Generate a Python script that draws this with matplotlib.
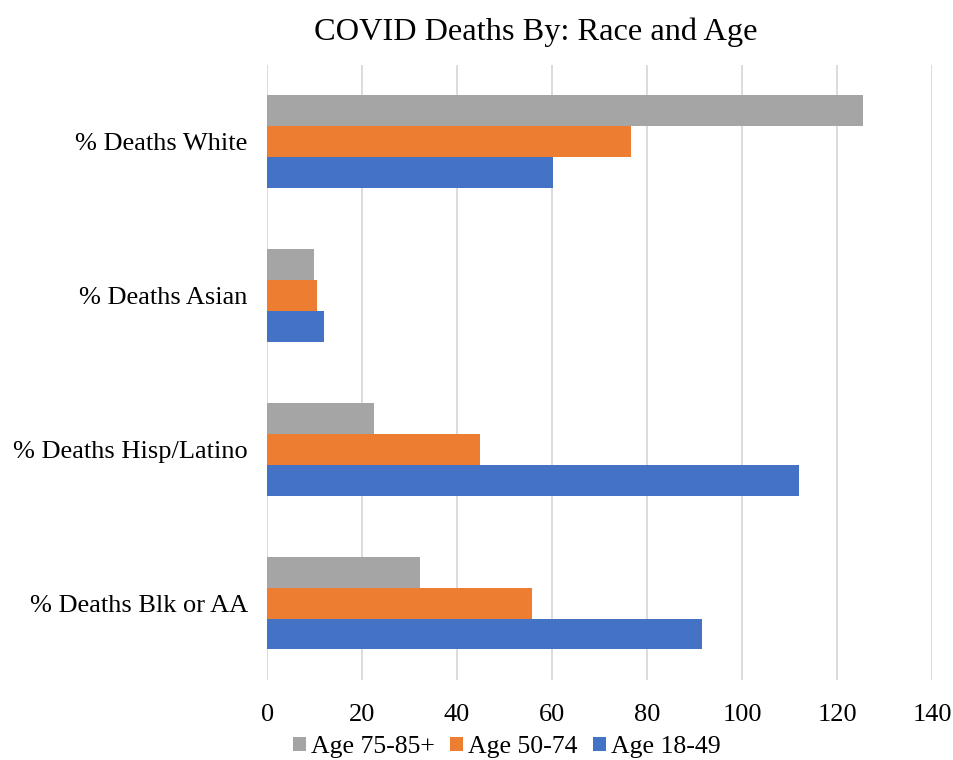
import matplotlib.pyplot as plt
import numpy as np

categories = ["% Deaths Blk or AA", "% Deaths Hisp/Latino", "% Deaths Asian", "% Deaths White"]
age_18_49 = [91.6, 112.0, 12.0, 60.2]
age_50_74 = [55.8, 44.9, 10.4, 76.7]
age_75_85 = [32.2, 22.4, 9.9, 125.5]
series_names = ["Age 18-49", "Age 50-74", "Age 75-85+"]
colors = ["#4472c4", "#ed7d31", "#a5a5a5"]

plt.rcParams["font.family"] = ["Liberation Serif", "DejaVu Serif"]

fig = plt.figure(figsize=(9.54, 7.6), dpi=100)
ax = fig.add_axes([0.280, 0.105, 0.697, 0.810])

y = np.arange(len(categories))
h = 0.2
for i, (vals, name, c) in enumerate(zip([age_18_49, age_50_74, age_75_85], series_names, colors)):
    ax.barh(y + (i - 1) * h, vals, height=h, color=c, label=name, zorder=3)

ax.set_xlim(0, 140)
ax.set_ylim(-0.5, 3.5)
ax.set_xticks(np.arange(0, 141, 20))
ax.set_yticks(y)
ax.set_yticklabels(categories)
ax.tick_params(axis="both", length=0, labelsize=19)
ax.tick_params(axis="x", pad=17)
ax.tick_params(axis="y", pad=14)
ax.grid(axis="x", color="#d9d9d9", linewidth=1.3, zorder=0)
for s in ax.spines.values():
    s.set_visible(False)

fig.text(0.562, 0.958, "COVID Deaths By: Race and Age", ha="center", va="center", fontsize=23.3)

handles, labels = ax.get_legend_handles_labels()
fig.legend(handles[::-1], labels[::-1], loc="center", bbox_to_anchor=(0.531, 0.017), ncol=3,
           frameon=False, fontsize=18.5, handlelength=0.5, handleheight=0.5,
           handletextpad=0.2, columnspacing=0.6, borderaxespad=0)

fig.savefig("out.png", dpi=100)
